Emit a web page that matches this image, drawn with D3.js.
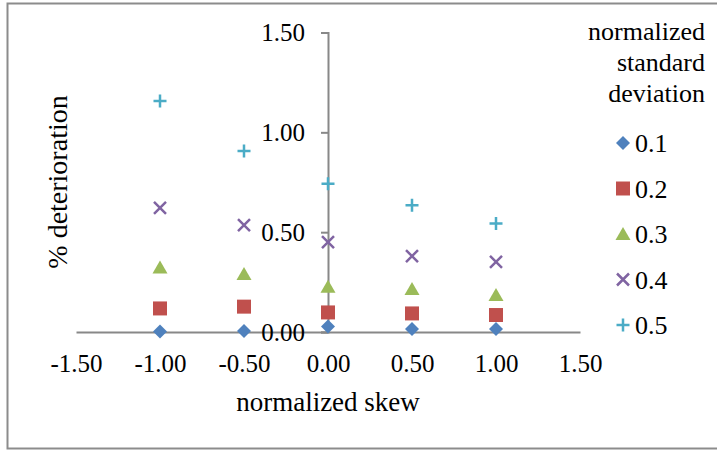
<!DOCTYPE html>
<html>
<head>
<meta charset="utf-8">
<script src="https://cdn.jsdelivr.net/npm/d3@7"></script>
<style>
  body { margin: 0; background: #fff; }
</style>
</head>
<body>
<div id="chart"></div>
<script>
// data
var skew = [-1.0, -0.5, 0.0, 0.5, 1.0];
var seriesNames = ["0.1", "0.2", "0.3", "0.4", "0.5"];
var sd01 = [0.003, 0.005, 0.027, 0.015, 0.015];
var sd02 = [0.118, 0.127, 0.098, 0.093, 0.085];
var sd03 = [0.323, 0.290, 0.227, 0.215, 0.185];
var sd04 = [0.622, 0.535, 0.450, 0.380, 0.351];
var sd05 = [1.157, 0.907, 0.743, 0.635, 0.543];
var xTicks = [-1.5, -1.0, -0.5, 0.0, 0.5, 1.0, 1.5];
var yTicks = [0.0, 0.5, 1.0, 1.5];

var allSeries = [sd01, sd02, sd03, sd04, sd05];
var colors = ["#4F81BD", "#C0504D", "#9BBB59", "#8064A2", "#4BACC6"];
var shapes = ["diamond", "square", "triangle", "x", "plus"];

var serif = "Times New Roman, Liberation Serif, DejaVu Serif, serif";
var width = 717, height = 450;

var svg = d3.select("#chart").append("svg")
    .attr("width", width)
    .attr("height", height)
    .attr("font-family", serif);

// outer chart frame
svg.append("rect")
    .attr("x", 7.5)
    .attr("y", 3.5)
    .attr("width", 720)
    .attr("height", 445)
    .style("fill", "none")
    .style("stroke", "#8c8c8c")
    .style("stroke-width", 2);

var x = d3.scaleLinear().domain([-1.5, 1.5]).range([76, 580]);
var y = d3.scaleLinear().domain([0, 1.5]).range([332, 32.5]);

// x axis crosses at y = 0, y axis at x = 0
var xAxis = svg.append("g")
    .attr("transform", "translate(0," + y(0) + ")")
    .call(d3.axisBottom(x).tickValues(xTicks).tickSize(0).tickPadding(20)
      .tickFormat(function(d) { return d3.format(".2f")(d).replace("−", "-"); }));

var yAxis = svg.append("g")
    .attr("transform", "translate(" + x(0) + ",0)")
    .call(d3.axisLeft(y).tickValues(yTicks).tickSize(7).tickPadding(16)
      .tickFormat(d3.format(".2f")));

[xAxis, yAxis].forEach(function(g) {
  g.attr("font-family", serif).attr("font-size", 25);
  g.select(".domain").style("stroke", "#888").style("stroke-width", 2);
  g.selectAll(".tick line").style("stroke", "#888").style("stroke-width", 2);
  g.selectAll(".tick text").attr("fill", "#000");
});
xAxis.selectAll(".tick text").attr("dy", "0.8em");

function symbolPath(shape) {
  if (shape === "diamond") return "M0,-7L7,0L0,7L-7,0Z";
  if (shape === "square") return "M-7,-7H7V7H-7Z";
  if (shape === "triangle") return "M0,-7L7.5,6L-7.5,6Z";
  if (shape === "x") return "M-6,-6L6,6M6,-6L-6,6";
  return "M-6.5,0H6.5M0,-6.5V6.5";
}

function drawMarker(g, i) {
  var p = g.append("path").attr("d", symbolPath(shapes[i]));
  if (shapes[i] === "x" || shapes[i] === "plus") {
    p.style("fill", "none").style("stroke", colors[i]).style("stroke-width", 2.5);
  } else {
    p.style("fill", colors[i]).style("stroke", "none");
  }
}

allSeries.forEach(function(values, i) {
  svg.append("g").selectAll("g")
      .data(values)
    .enter().append("g")
      .attr("transform", function(d, j) { return "translate(" + x(skew[j]) + "," + y(d) + ")"; })
      .each(function() { drawMarker(d3.select(this), i); });
});

// axis titles
svg.append("text")
    .attr("x", x(0))
    .attr("y", 411)
    .attr("text-anchor", "middle")
    .attr("font-size", 27)
    .text("normalized skew");

svg.append("text")
    .attr("transform", "translate(67,182) rotate(-90)")
    .attr("text-anchor", "middle")
    .attr("font-size", 28)
    .text("% deterioration");

// legend
var legendTitle = ["normalized", "standard", "deviation"];
svg.append("g").selectAll("text")
    .data(legendTitle)
  .enter().append("text")
    .attr("x", 705)
    .attr("y", function(d, i) { return 40 + i * 31; })
    .attr("text-anchor", "end")
    .attr("font-size", 26)
    .text(function(d) { return d; });

var legend = svg.append("g").selectAll("g")
    .data(seriesNames)
  .enter().append("g")
    .attr("transform", function(d, i) { return "translate(623," + (143 + i * 45.5) + ")"; });

legend.each(function(d, i) { drawMarker(d3.select(this), i); });

legend.append("text")
    .attr("x", 12)
    .attr("dy", "0.35em")
    .attr("font-size", 26)
    .text(function(d) { return d; });
</script>
</body>
</html>
